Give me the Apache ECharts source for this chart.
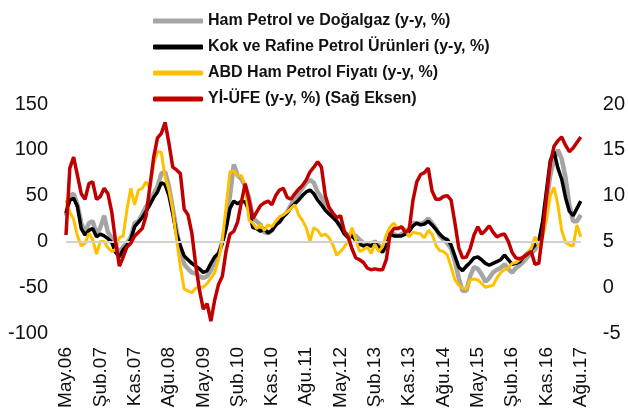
<!DOCTYPE html>
<html><head><meta charset="utf-8">
<script src="https://cdn.jsdelivr.net/npm/echarts@6/dist/echarts.min.js"></script>
<style>html,body{margin:0;padding:0;background:#fff}#c{width:628px;height:415px}</style>
</head><body><div id="c"></div>
<script>
var monthNames = ['Oca','Şub','Mar','Nis','May','Haz','Tem','Ağu','Eyl','Eki','Kas','Ara'];
var startYear = 2006, startMonth = 4, monthCount = 136;
var categories = [];
for (var k = 0; k < monthCount; k++) {
  var m = (startMonth + k) % 12, y = startYear + Math.floor((startMonth + k) / 12);
  categories.push(monthNames[m] + '.' + String(y).slice(2));
}
var seriesNames = ['Ham Petrol ve Doğalgaz (y-y, %)','Kok ve Rafine Petrol Ürünleri (y-y, %)','ABD Ham Petrol Fiyatı (y-y, %)','Yİ-ÜFE (y-y, %) (Sağ Eksen)'];
var hamPetrol = [28,50,52,40,20,10,20,22,8,15,28,10,4,-5,-12,-6,-2,5,20,22,30,38,45,52,60,74,76,60,36,12,-8,-25,-30,-34,-35,-38,-40,-38,-32,-22,-14,0,20,50,84,72,68,60,48,26,22,18,10,9,12,18,22,28,32,40,46,52,58,64,67,64,54,48,40,34,28,22,16,10,6,8,6,2,-2,-2,-4,0,-4,-10,-2,8,8,6,8,10,14,20,20,19,21,25,20,14,6,2,-2,-8,-22,-40,-54,-54,-38,-28,-30,-36,-44,-40,-34,-31,-29,-25,-30,-34,-29,-26,-22,-17,-13,-9,-2,14,42,72,90,100,90,70,40,22,22,29];
var kokRafine = [31,45,47,38,14,7,12,14,5,8,6,3,-1,-12,-17,-9,-4,2,16,21,26,33,40,48,54,64,62,50,30,8,-5,-16,-20,-24,-27,-30,-34,-32,-24,-17,-13,-2,14,36,44,41,44,43,34,15,14,11,14,9,12,18,21,27,31,37,41,45,50,54,56,52,45,40,34,30,26,22,16,8,4,6,1,-3,-5,-4,-5,-2,-6,-12,-5,8,6,6,6,8,11,17,20,18,19,22,18,13,8,4,2,-4,-16,-28,-32,-27,-23,-18,-17,-20,-24,-26,-24,-22,-20,-15,-20,-25,-24,-22,-17,-13,-9,-4,0,22,55,88,98,80,68,48,33,28,36,44];
var abdHam = [45,32,24,6,-5,-2,9,2,-14,0,0,-7,-11,-9,4,6,35,58,40,56,58,65,58,85,98,97,70,56,34,2,-28,-52,-54,-56,-51,-50,-50,-46,-40,-34,-20,1,38,76,77,72,72,60,23,20,14,18,12,18,16,22,27,29,32,36,40,29,23,15,0,15,12,6,8,4,-4,-15,-11,-6,1,15,2,-11,-9,-6,-13,-3,-11,-6,7,16,20,14,16,13,5,10,9,8,4,12,8,-4,-10,-11,-15,-28,-42,-48,-51,-52,-42,-41,-42,-46,-50,-49,-48,-40,-34,-31,-29,-24,-23,-20,-17,-13,-8,5,-6,5,23,50,59,40,12,-1,-4,-5,18,5];
var yiUfe = [5.7,13.0,14.2,12.2,10.2,9.6,11.3,11.5,9.6,9.9,10.8,10.2,8.2,5.0,2.3,3.3,4.4,4.8,5.6,6.0,6.4,7.8,11.0,14.2,16.3,16.8,18.0,15.7,13.1,12.8,12.4,8.5,7.9,5.9,2.5,-0.3,-2.4,-1.8,-3.7,-1.4,0.3,1.2,4.0,5.8,6.1,7.1,9.3,11.3,9.5,7.5,8.2,8.9,9.2,9.4,9.0,10.0,10.6,10.8,9.8,9.6,10.2,10.7,11.1,11.7,12.6,13.1,13.7,13.1,10.0,8.7,8.1,7.6,7.8,6.1,5.5,4.2,3.2,3.0,2.7,2.1,1.9,2.0,1.9,1.9,3.0,5.8,6.4,6.4,6.6,6.0,6.3,9.5,11.5,12.3,12.5,13.0,10.5,9.6,9.6,9.9,10.0,9.5,7.0,4.3,3.2,3.3,4.2,5.7,6.6,5.8,6.2,6.7,6.0,5.5,5.7,5.8,5.0,3.8,3.2,3.1,3.3,3.6,3.9,2.5,2.6,5.9,9.9,13.5,15.4,16.0,16.4,15.5,14.8,15.2,15.8,16.4];
var leftTicks = {min:-100, max:150, interval:50};
var rightTicks = {min:-5, max:20, interval:5};
var colors = ['#A5A5A5','#000000','#FFC000','#C00000'];

var chart = echarts.init(document.getElementById('c'), null, {renderer:'canvas'});
var font = 'Liberation Sans, Arial, sans-serif';
function lineSeries(i, data, width, yIdx) {
  return {name: seriesNames[i], type:'line', data:data, yAxisIndex:yIdx, symbol:'none', smooth:false,
    lineStyle:{color:colors[i], width:width}, itemStyle:{color:colors[i]}, z: 2 + i, animation:false};
}
var s0 = lineSeries(0, hamPetrol, 4.5, 0);
s0.markLine = {silent:true, symbol:['none','none'], label:{show:false}, animation:false,
  lineStyle:{color:'#D0D0D0', width:2, type:'solid'}, data:[{yAxis:0}]};
chart.setOption({
  animation:false,
  textStyle:{fontFamily:font},
  legend:{orient:'vertical', left:148, top:8, itemWidth:50, itemHeight:5, itemGap:10, icon:'roundRect',
    textStyle:{fontFamily:font, fontSize:16, fontWeight:'bold', color:'#111'}, data:seriesNames},
  grid:{left:66, right:40, top:104, bottom:82, containLabel:false},
  xAxis:{type:'category', data:categories, boundaryGap:false,
    axisLine:{show:false}, axisTick:{show:false}, splitLine:{show:false},
    axisLabel:{interval:8, rotate:90, fontSize:19, color:'#111', margin:14, fontFamily:font}},
  yAxis:[
    {type:'value', min:leftTicks.min, max:leftTicks.max, interval:leftTicks.interval, position:'left',
     axisLine:{show:false}, axisTick:{show:false}, splitLine:{show:false},
     axisLabel:{fontSize:20, color:'#111', margin:18, fontFamily:font}},
    {type:'value', min:rightTicks.min, max:rightTicks.max, interval:rightTicks.interval, position:'right',
     axisLine:{show:false}, axisTick:{show:false}, splitLine:{show:false},
     axisLabel:{fontSize:20, color:'#111', margin:22, fontFamily:font}}
  ],
  series:[s0, lineSeries(1, kokRafine, 3.5, 0), lineSeries(2, abdHam, 3, 0), lineSeries(3, yiUfe, 3.5, 1)]
});
</script></body></html>
